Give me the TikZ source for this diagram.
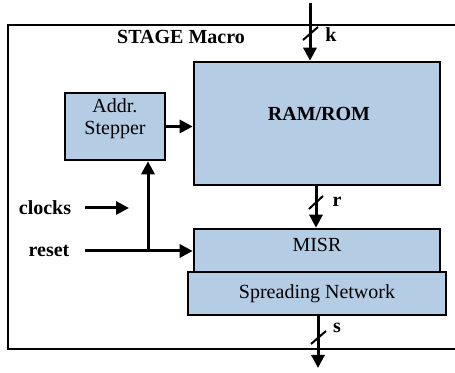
\documentclass[tikz,border=0pt]{standalone}
\usepackage{fontspec}
\setmainfont{Liberation Serif}
\usetikzlibrary{arrows.meta,positioning}
\definecolor{blockblue}{RGB}{180,204,228}
\tikzset{%
   block/.style={draw=black, fill=blockblue, line width=1.3pt, inner sep=0pt},
   arr/.style={line width=1.5pt, -{Triangle[length=6.5pt, width=6.5pt]}},
   wire/.style={line width=1.5pt},
   slash/.style={line width=1pt},
   lbl/.style={font=\bfseries, inner sep=1pt},
}

\begin{document}
\begin{tikzpicture}[x=0.5pt, y=-0.5pt]
      \useasboundingbox (0,0) rectangle (455,373);
      % outer macro frame, its right side runs off the page
      \draw[line width=1pt] (8,25) rectangle (480,349);
      \node[lbl] (title) at (181,37) {STAGE Macro};
      % blocks
      \node[block, minimum width=123pt, minimum height=61.5pt] (ram) at (317,123.5) {};
      \node[lbl] (ramtxt) at (319,114) {RAM/ROM};
      \node[block, minimum width=50pt, minimum height=33.5pt] (addr) at (115,126.5) {};
      \node[align=center, inner sep=0pt] (addrtxt) at (115,119) {Addr.\\[-1pt]Stepper};
      \node[block, minimum width=123pt, minimum height=21.5pt] (misr) at (317,250.5) {};
      \node[inner sep=0pt] (misrtxt) at (317,245) {MISR};
      \node[block, minimum width=129pt, minimum height=21.5pt] (spread) at (317,293.5) {Spreading Network};
      % inputs
      \coordinate (kin) at (310,3);
      \coordinate (sout) at (318,368);
      \node[lbl] (clk) at (45,208) {clocks};
      \coordinate (clka) at (85,208);
      \coordinate (clkb) at (129,208);
      \node[lbl] (rst) at (49,251) {reset};
      \coordinate (rsta) at (85,251);
      \coordinate (rstj) at (148,251);
      % connectors
      \draw[arr] (kin) -- (kin |- ram.north);
      \draw[arr] (addr.east |- 0,126.5) -- (ram.west |- 0,126.5);
      \draw[arr] (clka) -- (clkb);
      \draw[arr] (rsta) -- (rsta -| misr.west);
      \draw[arr] (rstj) -- (rstj |- addr.south);
      \draw[arr] (316,0 |- ram.south) -- (316,0 |- misr.north);
      \draw[arr] (sout |- spread.south) -- (sout);
      % bus width marks
      \draw[slash] (303,40) -- (318,27);
      \node[lbl] (k) at (331,35) {k};
      \draw[slash] (309,209) -- (323,196);
      \node[lbl] (r) at (337,202) {r};
      \draw[slash] (311,344) -- (326,331);
      \node[lbl] (s) at (337,328) {s};
\end{tikzpicture}
\end{document}
